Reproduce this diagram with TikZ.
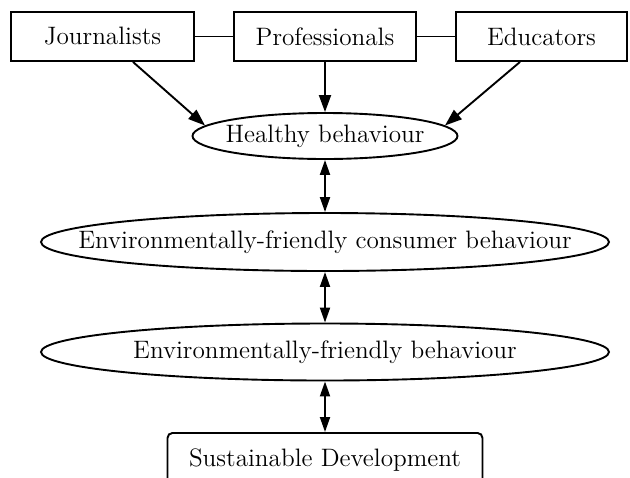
\documentclass[tikz,border=0pt]{standalone}
\usepackage{fontspec}
\usetikzlibrary{shapes.geometric,arrows.meta}

\tikzset{
  base/.style={draw=black, line width=0.95pt, fill=white, inner sep=0pt,
    font=\fontsize{12.6}{15}\selectfont},
  group/.style={base, rectangle, minimum height=24.5pt},
  % the ellipse size is set by minimum width/height alone
  behaviour/.style={base, ellipse, inner xsep=-60pt},
  goal/.style={base, rectangle, rounded corners=2.5pt},
  link/.style={line width=0.95pt},
  influence/.style={line width=0.95pt, -{Triangle[length=8.5pt,width=6pt]}},
  mutual/.style={line width=0.95pt, {Triangle[length=7.5pt,width=5pt]}-{Triangle[length=7.5pt,width=5pt]}}
}

\begin{document}
\begin{tikzpicture}[x=0.5pt, y=-0.5pt]
  \clip (0,0) rectangle (630,477);
  \fill[white] (0,0) rectangle (630,477);

  % actors
  \node[group, minimum width=91.5pt] (J) at (102.5,36.5) {Journalists};
  \node[group, minimum width=91pt]   (P) at (325,36.5)   {Professionals};
  \node[group, minimum width=85.5pt] (E) at (541.5,36.5) {Educators};

  % behaviours
  \node[behaviour, minimum width=132.5pt, minimum height=23pt] (H) at (325,136) {Healthy behaviour};
  \node[behaviour, minimum width=284pt, minimum height=29pt]   (C) at (325,242) {Environmentally-friendly consumer behaviour};
  \node[behaviour, minimum width=284pt, minimum height=28.5pt] (F) at (325,352) {Environmentally-friendly behaviour};

  % goal
  \node[goal, minimum width=157.5pt, minimum height=27pt, anchor=north] (S) at (325,432) {\raisebox{-5pt}{Sustainable Development}};

  % links between actors
  \draw[link] (J.east) -- (P.west);
  \draw[link] (P.east) -- (E.west);

  % influences on healthy behaviour
  \draw[influence] ([xshift=15.25pt]J.south) -- (H.175);
  \draw[influence] (P.south) -- (H.north);
  \draw[influence] ([xshift=-10.75pt]E.south) -- (H.5);

  % mutual relations down the chain
  \draw[mutual] (H.south) -- (C.north);
  \draw[mutual] (C.south) -- (F.north);
  \draw[mutual] (F.south) -- (S.north);
\end{tikzpicture}
\end{document}
